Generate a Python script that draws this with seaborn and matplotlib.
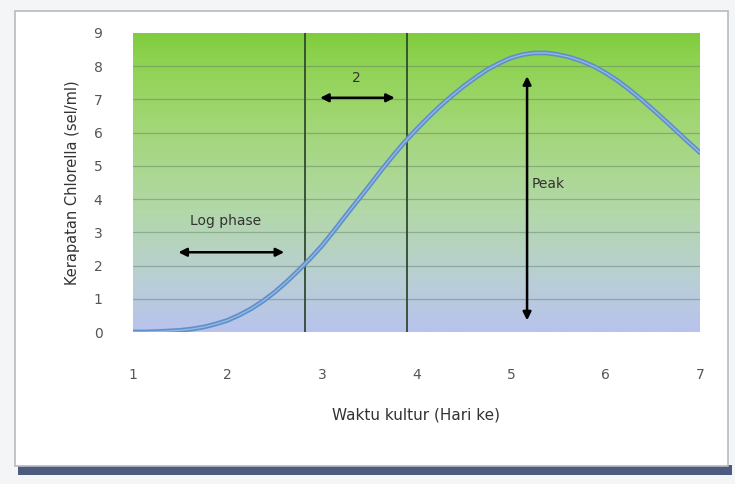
import numpy as np
import pandas as pd
import seaborn as sns
import matplotlib.pyplot as plt
from matplotlib.colors import LinearSegmentedColormap
from matplotlib.patches import Rectangle

# Culture time (day) and Chlorella density readings
days = [1.0, 1.125, 1.25, 1.375, 1.5, 1.625, 1.75, 1.875, 2.0, 2.125, 2.25, 2.375,
        2.5, 2.625, 2.75, 2.875, 3.0, 3.125, 3.25, 3.375, 3.5, 3.625, 3.75, 3.875,
        4.0, 4.125, 4.25, 4.375, 4.5, 4.625, 4.75, 4.875, 5.0, 5.125, 5.25, 5.375,
        5.5, 5.625, 5.75, 5.875, 6.0, 6.125, 6.25, 6.375, 6.5, 6.625, 6.75, 6.875, 7.0]
density = [0.0, 0.0, 0.01, 0.03, 0.05, 0.09, 0.15, 0.24, 0.35, 0.51, 0.7, 0.93,
           1.2, 1.51, 1.85, 2.21, 2.6, 3.04, 3.5, 3.95, 4.4, 4.86, 5.3, 5.72,
           6.1, 6.46, 6.8, 7.11, 7.4, 7.66, 7.9, 8.09, 8.25, 8.35, 8.4, 8.4,
           8.35, 8.27, 8.15, 8.0, 7.8, 7.57, 7.3, 7.01, 6.7, 6.38, 6.05, 5.72, 5.4]
x_ticks = [1, 2, 3, 4, 5, 6, 7]
y_ticks = [0, 1, 2, 3, 4, 5, 6, 7, 8, 9]
phase_bounds = [2.82, 3.9]

df = pd.DataFrame({"Hari": days, "Kerapatan": density})

sns.set_theme(style="white")
plt.rcParams['font.family'] = ['DejaVu Sans']

fig = plt.figure(figsize=(7.35, 4.84), dpi=100)
fig.patch.set_facecolor("#f3f5f7")

# White panel with thin frame and dark shadow bar underneath
fig.patches.append(Rectangle((18/735, 1 - 475/484), 714/735, 10/484,
                             transform=fig.transFigure, facecolor="#4d5b7e",
                             edgecolor="none", zorder=0))
fig.patches.append(Rectangle((15/735, 1 - 466/484), 713/735, 455/484,
                             transform=fig.transFigure, facecolor="white",
                             edgecolor="#b8bcc2", linewidth=1.2, zorder=0))

ax = fig.add_axes([133/735, 1 - 332/484, 567/735, 299/484])
ax.set_zorder(2)

# Vertical gradient background: lavender-blue at the bottom to bright green at top
cmap = LinearSegmentedColormap.from_list(
    "bg", [(0.0, "#b8c3ee"), (0.18, "#b9cfd4"), (0.42, "#b2d8a6"),
           (0.72, "#a0d671"), (0.92, "#8dd24f"), (1.0, "#7fcc3c")])
grad = np.linspace(0, 1, 256).reshape(-1, 1)
ax.imshow(grad, extent=[1, 7, 0, 9], origin="lower", aspect="auto",
          cmap=cmap, zorder=0)

# Horizontal gridlines
for yv in y_ticks[1:-1]:
    ax.axhline(yv, color="#5e7a5e", lw=0.9, alpha=0.45, zorder=1)

# Phase boundaries
for xv in phase_bounds:
    ax.axvline(xv, color="#2f4a30", lw=1.3, zorder=2)

sns.lineplot(data=df, x="Hari", y="Kerapatan", ax=ax, color="#5f8fcb",
             lw=3.4, zorder=4, solid_joinstyle="round", solid_capstyle="round")
ax.plot(days, density, color="#94b9e2", lw=1.0, zorder=5,
        solid_joinstyle="round")

arrow_kw = dict(arrowstyle="<|-|>", color="black", lw=1.8,
                mutation_scale=12, shrinkA=0, shrinkB=0)
ax.annotate("", xy=(1.48, 2.4), xytext=(2.6, 2.4), arrowprops=arrow_kw, zorder=6)
ax.text(1.98, 3.35, "Log phase", ha="center", va="center", fontsize=10,
        color="#333333", zorder=6)

ax.annotate("", xy=(2.98, 7.05), xytext=(3.77, 7.05), arrowprops=arrow_kw, zorder=6)
ax.text(3.36, 7.65, "2", ha="center", va="center", fontsize=10,
        color="#333333", zorder=6)

ax.annotate("", xy=(5.17, 7.7), xytext=(5.17, 0.35), arrowprops=arrow_kw, zorder=6)
ax.text(5.22, 4.45, "Peak", ha="left", va="center", fontsize=10,
        color="#333333", zorder=6)

ax.set_xlim(1, 7)
ax.set_ylim(0, 9)
ax.set_xticks(x_ticks)
ax.set_yticks(y_ticks)
ax.tick_params(axis="x", length=0, pad=26, labelsize=10, labelcolor="#555555")
ax.tick_params(axis="y", length=0, pad=22, labelsize=10, labelcolor="#555555")
for s in ax.spines.values():
    s.set_visible(False)

ax.set_xlabel("Waktu kultur (Hari ke)", fontsize=11, color="#333333", labelpad=18)
ax.set_ylabel("Kerapatan Chlorella (sel/ml)", fontsize=10.5, color="#333333",
              labelpad=10)

fig.savefig("out.png", dpi=100)
